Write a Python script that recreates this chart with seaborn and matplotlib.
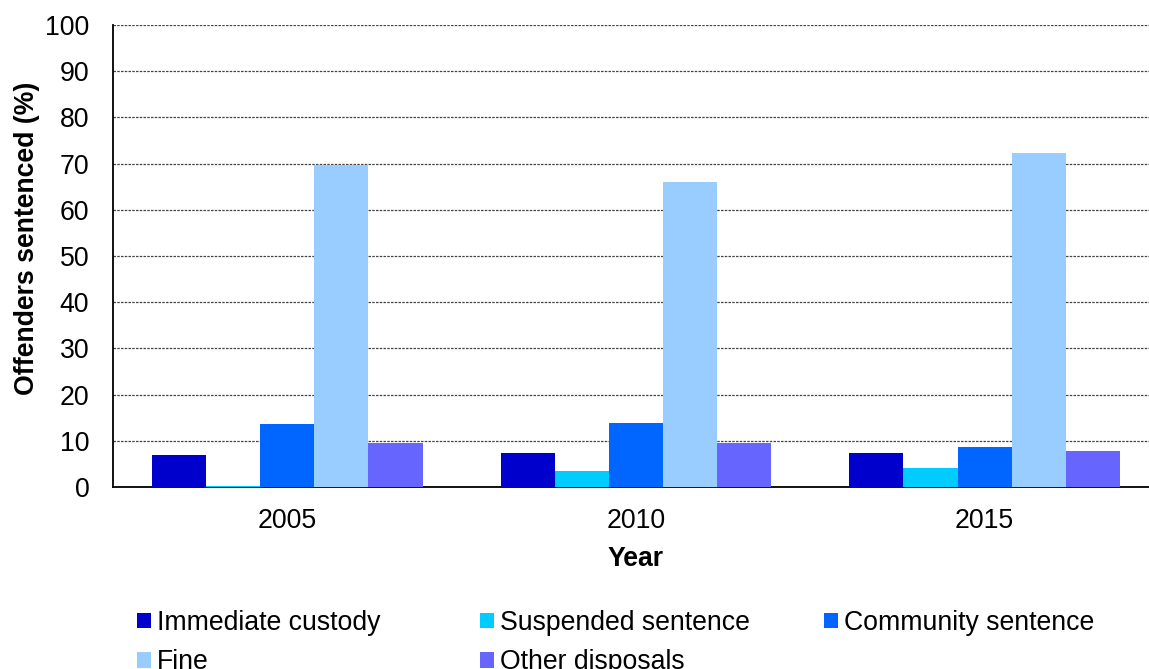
import matplotlib
matplotlib.use("Agg")
import matplotlib.pyplot as plt
import seaborn as sns
import pandas as pd
from matplotlib.patches import Patch

years = ["2005", "2010", "2015"]
disposals = ["Immediate custody", "Suspended sentence", "Community sentence",
             "Fine", "Other disposals"]
immediate_custody = [6.9, 7.4, 7.3]
suspended_sentence = [0.3, 3.5, 4.1]
community_sentence = [13.6, 13.9, 8.6]
fine = [69.7, 66.0, 72.2]
other_disposals = [9.6, 9.5, 7.9]
colors = ["#0000CC", "#00CCFF", "#0066FF", "#99CCFF", "#6666FF"]

series = [immediate_custody, suspended_sentence, community_sentence, fine, other_disposals]
rows = []
for name, vals in zip(disposals, series):
    for yr, v in zip(years, vals):
        rows.append({"Year": yr, "Disposal": name, "Value": v})
df = pd.DataFrame(rows)

sns.set_theme(style="white")
plt.rcParams["font.family"] = ["Liberation Sans", "DejaVu Sans"]
plt.rcParams["text.color"] = "black"
plt.rcParams["axes.labelcolor"] = "black"
FS = 19.2

fig = plt.figure(figsize=(11.49, 6.69), dpi=100)
ax = fig.add_axes([0.0983, 0.2720, 0.9104, 0.6906])

sns.barplot(data=df, x="Year", y="Value", hue="Disposal", hue_order=disposals,
            order=years, palette=colors, saturation=1, width=0.776, dodge=True,
            linewidth=0, errorbar=None, ax=ax, legend=False, zorder=3)

ax.set_ylim(0, 100)
ax.set_xlim(-0.5, 2.5)
ax.set_yticks(range(0, 101, 10))
ax.tick_params(axis="y", labelsize=FS, length=0, pad=17, colors="black")
ax.tick_params(axis="x", which="major", labelsize=FS, length=0, pad=15, colors="black")
ax.set_xticks([0.5, 1.5], minor=True)
ax.tick_params(axis="x", which="minor", length=7, width=1.2, color="black", direction="out")

ax.yaxis.grid(True, linestyle=(0, (2, 1)), color="#444444", linewidth=0.9, zorder=0)
ax.set_axisbelow(True)
for side in ["top", "right"]:
    ax.spines[side].set_visible(False)
for side in ["left", "bottom"]:
    ax.spines[side].set_color("black")
    ax.spines[side].set_linewidth(1.3)

ax.set_xlabel("Year", fontsize=FS, fontweight="bold", labelpad=9)
ax.set_ylabel("Offenders sentenced (%)", fontsize=FS, fontweight="bold")
ax.yaxis.set_label_coords(-0.0698, 0.539)

# legend laid out as a grid: one legend per column
columns = [[0, 3], [1, 4], [2]]
col_x = [137, 480, 824]
for idxs, x in zip(columns, col_x):
    handles = [Patch(facecolor=colors[i], edgecolor="none") for i in idxs]
    labels = [disposals[i] for i in idxs]
    leg = fig.legend(handles, labels, loc="upper left",
                     bbox_to_anchor=(x / 1149, 0.0885), ncol=1, frameon=False,
                     fontsize=FS, handlelength=0.52, handleheight=0.52,
                     handletextpad=0.22, labelspacing=0.51, borderpad=0,
                     borderaxespad=0)

fig.savefig("out.png", dpi=100)
